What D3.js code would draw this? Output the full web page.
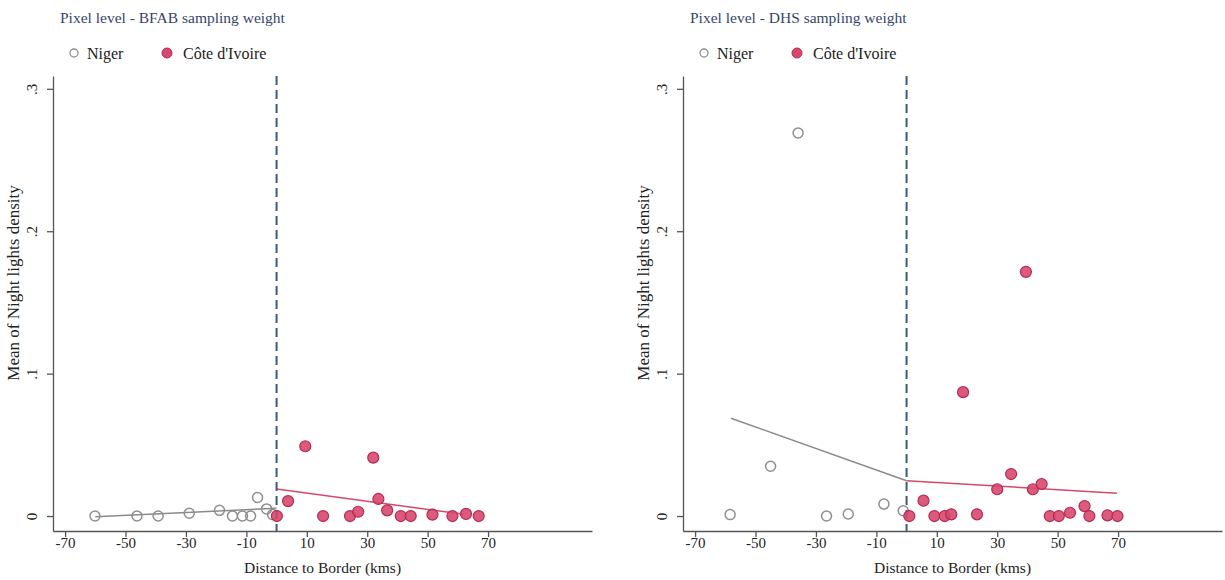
<!DOCTYPE html>
<html>
<head>
<meta charset="utf-8">
<script src="https://cdn.jsdelivr.net/npm/d3@7"></script>
<style>
  body { margin: 0; background: #fff; }
  text { font-family: "Liberation Serif", "Times New Roman", serif; }
</style>
</head>
<body>
<div id="chart"></div>
<script>
// ========== data ==========
// left panel: BFAB sampling weight
var bfabNigerX = [-60.1, -46.2, -39.2, -28.9, -18.9, -14.6, -11.3, -8.6, -6.3, -3.3, -1.3];
var bfabNigerY = [0, 0, 0, 0.002, 0.004, 0, 0, 0, 0.013, 0.005, 0.001];
var bfabIvoireX = [0.1, 3.8, 9.5, 15.4, 24.3, 27, 32, 33.7, 36.6, 41.1, 44.4, 51.6, 58.2, 62.7, 66.9];
var bfabIvoireY = [0, 0.0105, 0.049, 0, 0, 0.003, 0.041, 0.012, 0.004, 0, 0, 0.001, 0, 0.0015, 0];
var bfabNigerFitX = [-60, 0], bfabNigerFitY = [-0.0005, 0.0055];
var bfabIvoireFitX = [0, 62], bfabIvoireFitY = [0.019, 0.0012];

// right panel: DHS sampling weight
var dhsNigerX = [-58.4, -45, -35.9, -26.5, -19.3, -7.5, -1.1];
var dhsNigerY = [0.001, 0.035, 0.269, 0, 0.0014, 0.0084, 0.0037];
var dhsIvoireX = [0.9, 5.6, 9.2, 12.6, 14.8, 18.7, 23.3, 30, 34.6, 39.5, 41.8, 44.7, 47.4, 50.4, 54.1, 58.9, 60.5, 66.5, 69.8];
var dhsIvoireY = [0, 0.0108, 0, 0, 0.0012, 0.087, 0.0012, 0.0188, 0.0295, 0.1715, 0.0188, 0.0225, 0, 0, 0.0023, 0.007, 0, 0.0005, 0];
var dhsNigerFitX = [-58.1, 0], dhsNigerFitY = [0.0687, 0.0248];
var dhsIvoireFitX = [0, 69.6], dhsIvoireFitY = [0.0248, 0.016];

var xTicks = [-70, -50, -30, -10, 10, 30, 50, 70];
var yTicks = [0, 0.1, 0.2, 0.3];
var yTickLabels = ["0", ".1", ".2", ".3"];
var legendNames = ["Niger", "Côte d'Ivoire"];

// ========== chart setup ==========
var svgWidth = 1225, svgHeight = 580;
var svg = d3.select("#chart").append("svg").attr("width", svgWidth).attr("height", svgHeight);

var greyStroke = "#8f8f8f";
var redFill = "#d8486e", redStroke = "#b52a52", redLine = "#d5486c";
var titleColor = "#37466a";

function zip(xs, ys) { return xs.map((x, i) => ({x: x, y: ys[i]})); }

function drawPanel(opt) {
  var left = opt.left, right = opt.right, top = 76, bottom = 531;
  var xScale = d3.scaleLinear().domain([-74, 104.4]).range([left, right]);
  var yScale = d3.scaleLinear().domain([-0.0105, 0.309]).range([bottom, top]);

  var g = svg.append("g");

  // title
  g.append("text").attr("x", opt.titleX).attr("y", 23)
    .attr("font-size", "15.5px").attr("fill", titleColor).text(opt.title);

  // legend
  var lx = opt.titleX;
  g.append("circle").attr("cx", lx + 14).attr("cy", 53).attr("r", 4)
    .attr("fill", "none").attr("stroke", greyStroke).attr("stroke-width", 1.3);
  g.append("text").attr("x", lx + 27).attr("y", 58.5).attr("font-size", "16px").attr("fill", "#222").text(legendNames[0]);
  g.append("circle").attr("cx", lx + 107).attr("cy", 53).attr("r", 5)
    .attr("fill", redFill).attr("stroke", redStroke).attr("stroke-width", 1);
  g.append("text").attr("x", lx + 123).attr("y", 58.5).attr("font-size", "16px").attr("fill", "#222").text(legendNames[1]);

  // axes
  var xAxis = d3.axisBottom(xScale).tickValues(xTicks).tickSize(6).tickSizeOuter(0).tickFormat(d => String(d));
  var xg = g.append("g").attr("transform", `translate(0, ${bottom})`).call(xAxis);
  xg.select(".domain").attr("stroke", "#555").attr("stroke-width", 1.3);
  xg.selectAll(".tick line").attr("stroke", "#555").attr("stroke-width", 1.3);
  xg.selectAll(".tick text").attr("font-family", "Liberation Serif, serif").attr("font-size", "15px").attr("fill", "#222").attr("dy", "0.5em");

  var yAxis = d3.axisLeft(yScale).tickValues(yTicks).tickSize(6).tickSizeOuter(0)
    .tickFormat((d, i) => yTickLabels[i]);
  var yg = g.append("g").attr("transform", `translate(${left}, 0)`).call(yAxis);
  yg.select(".domain").attr("stroke", "#555").attr("stroke-width", 1.3);
  yg.selectAll(".tick line").attr("stroke", "#555").attr("stroke-width", 1.3);
  yg.selectAll(".tick text")
    .attr("x", null).attr("dy", null)
    .attr("font-family", "Liberation Serif, serif").attr("font-size", "15px").attr("fill", "#222")
    .attr("text-anchor", "middle")
    .attr("transform", "translate(-16, 0) rotate(-90)");

  // axis titles
  g.append("text")
    .attr("x", (left + right) / 2).attr("y", 573)
    .attr("text-anchor", "middle").attr("font-size", "15.5px").attr("fill", "#222")
    .text("Distance to Border (kms)");
  g.append("text")
    .attr("transform", `translate(${left - 34}, 283) rotate(-90)`)
    .attr("text-anchor", "middle").attr("font-size", "17px").attr("fill", "#222")
    .text("Mean of Night lights density");

  // fitted lines
  var line = d3.line().x(d => xScale(d.x)).y(d => yScale(d.y));
  g.append("path").datum(zip(opt.nFitX, opt.nFitY)).attr("d", line)
    .attr("fill", "none").attr("stroke", "#8a8a8a").attr("stroke-width", 1.5);
  g.append("path").datum(zip(opt.cFitX, opt.cFitY)).attr("d", line)
    .attr("fill", "none").attr("stroke", redLine).attr("stroke-width", 1.5);

  // Niger points
  g.append("g").selectAll("circle").data(zip(opt.nX, opt.nY)).enter().append("circle")
    .attr("cx", d => xScale(d.x)).attr("cy", d => yScale(d.y)).attr("r", 5)
    .attr("fill", "none").attr("stroke", greyStroke).attr("stroke-width", 1.5);

  // border line
  g.append("line")
    .attr("x1", xScale(0)).attr("x2", xScale(0)).attr("y1", top).attr("y2", bottom)
    .attr("stroke", "#3b5a7c").attr("stroke-width", 2).attr("stroke-dasharray", "9,5");

  // Cote d'Ivoire points
  g.append("g").selectAll("circle").data(zip(opt.cX, opt.cY)).enter().append("circle")
    .attr("cx", d => xScale(d.x)).attr("cy", d => yScale(d.y)).attr("r", 5.5)
    .attr("fill", redFill).attr("fill-opacity", 0.9).attr("stroke", redStroke).attr("stroke-width", 1.2);
}

drawPanel({left: 53, right: 592, titleX: 60, title: "Pixel level - BFAB sampling weight",
  nX: bfabNigerX, nY: bfabNigerY, cX: bfabIvoireX, cY: bfabIvoireY,
  nFitX: bfabNigerFitX, nFitY: bfabNigerFitY, cFitX: bfabIvoireFitX, cFitY: bfabIvoireFitY});

drawPanel({left: 683, right: 1222, titleX: 690, title: "Pixel level - DHS sampling weight",
  nX: dhsNigerX, nY: dhsNigerY, cX: dhsIvoireX, cY: dhsIvoireY,
  nFitX: dhsNigerFitX, nFitY: dhsNigerFitY, cFitX: dhsIvoireFitX, cFitY: dhsIvoireFitY});
</script>
</body>
</html>
